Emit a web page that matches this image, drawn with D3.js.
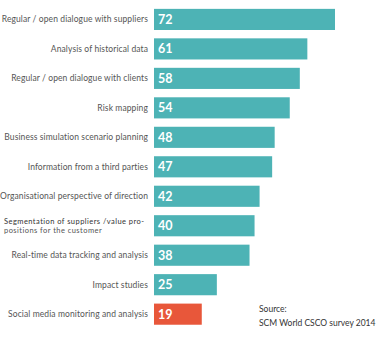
<!DOCTYPE html>
<html><head><meta charset="utf-8">
<script src="https://cdn.jsdelivr.net/npm/d3@7"></script>
<style>html,body{margin:0;padding:0;background:#fff;}svg{display:block;}</style>
</head><body>
<svg id="chart" width="384" height="339"></svg>
<script>
const categories = [
  "Regular / open dialogue with suppliers",
  "Analysis of historical data",
  "Regular / open dialogue with clients",
  "Risk mapping",
  "Business simulation scenario planning",
  "Information from a third parties",
  "Organisational perspective of direction",
  "Segmentation of suppliers /value pro-|positions for the customer",
  "Real-time data tracking and analysis",
  "Impact studies",
  "Social media monitoring and analysis"
];
const values = [72, 61, 58, 54, 48, 47, 42, 40, 38, 25, 19];
const highlight = [false,false,false,false,false,false,false,false,false,false,true];
const sourceLines = ["Source:", "SCM World CSCO survey 2014"];

const svg = d3.select("#chart");
const x = d3.scaleLinear().domain([0, 72]).range([154, 335]);
const y = d3.scaleBand().domain(categories).range([1.5, 332.1]).paddingInner(0.283).paddingOuter(0.25);

svg.selectAll("rect.bar").data(categories).join("rect")
  .attr("class","bar")
  .attr("x", x(0))
  .attr("y", d => y(d))
  .attr("width", (d,i) => x(values[i]) - x(0))
  .attr("height", y.bandwidth())
  .attr("fill", (d,i) => highlight[i] ? "#e8573a" : "#4db3b5");

svg.selectAll("text.val").data(categories).join("text")
  .attr("class","val")
  .attr("x", x(0) + 4)
  .attr("y", d => y(d) + y.bandwidth()/2 + 4.5)
  .attr("fill", "#fff")
  .attr("font-family", "Lato, sans-serif")
  .attr("font-weight", "bold")
  .attr("font-size", "12.5px")
  .text((d,i) => values[i]);

const lab = svg.selectAll("text.lab").data(categories).join("text")
  .attr("class","lab")
  .attr("text-anchor","end")
  .attr("x", 148)
  .attr("y", d => y(d) + y.bandwidth()/2 + 3)
  .attr("fill", "#555")
  .attr("font-family", "Lato, sans-serif")
  .attr("font-size", "8.5px")
  .attr("letter-spacing", "0.1px");
lab.each(function(d){
  const parts = d.split("|");
  const t = d3.select(this);
  if (parts.length === 1) { t.text(d); return; }
  t.attr("text-anchor","start").attr("x", 4).attr("font-size", "7.5px").attr("letter-spacing", "0.45px");
  t.append("tspan").attr("x", 4).attr("dy", -4.5).attr("fill","#333").text(parts[0]);
  t.append("tspan").attr("x", 4).attr("dy", 9).text(parts[1]);
});

svg.selectAll("text.src").data(sourceLines).join("text")
  .attr("class","src")
  .attr("x", 259)
  .attr("y", (d,i) => 312 + i*13.5)
  .attr("fill", "#333")
  .attr("font-family", "Lato, sans-serif")
  .attr("font-size", "8.5px")
  .text(d => d);
</script>
</body></html>
